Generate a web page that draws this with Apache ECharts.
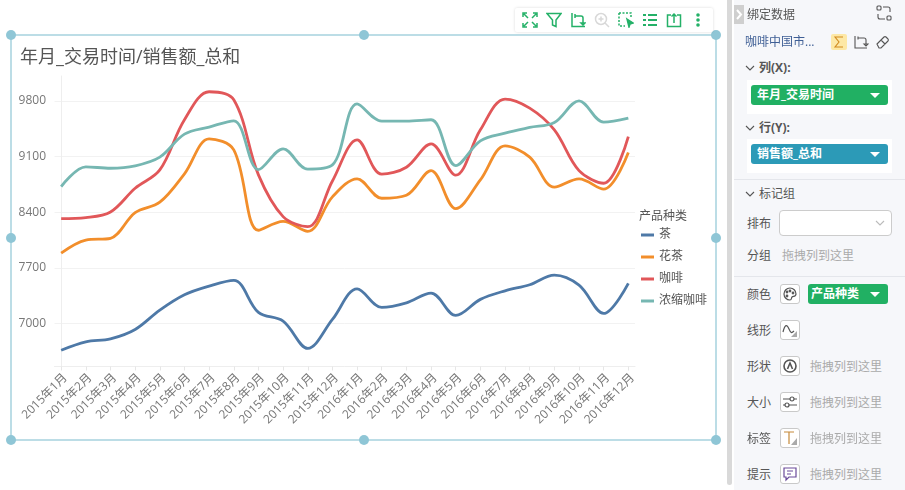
<!DOCTYPE html>
<html><head><meta charset="utf-8">
<script src="https://cdn.jsdelivr.net/npm/echarts@6/dist/echarts.min.js"></script>
<style>
html,body{margin:0;padding:0;width:905px;height:490px;overflow:hidden;background:#fff;font-family:"Open Sans","Noto Sans CJK SC",sans-serif;}
#chart{position:absolute;left:0;top:0;width:725px;height:490px;}
.edge{position:absolute;background:#bcdde6;}
.dot{position:absolute;width:10px;height:10px;border-radius:50%;background:#8fc6d6;}
#toolbar{position:absolute;left:515px;top:8px;width:198px;height:24px;background:#fff;box-shadow:0 0 3px rgba(0,0,0,.15);border-radius:2px;}
#toolbar svg{position:absolute;top:4px;width:16px;height:16px;fill:none;stroke:#24b168;stroke-width:1.5;}
#panel{position:absolute;left:734px;top:0;width:171px;height:490px;background:#f6f7fa;}
#strip{position:absolute;left:727px;top:0;width:5px;height:485px;background:#d9d9d9;border-radius:0 0 3px 3px;}
#btn{position:absolute;left:734px;top:5px;width:10px;height:19px;background:#cfcfcf;}
.t{position:absolute;font-size:12px;line-height:16px;color:#555;white-space:nowrap;}
.hint{color:#aaa;}
.b{font-weight:bold;}
.box{position:absolute;background:#fff;}
.pill{position:absolute;border-radius:3px;color:#fff;font-size:12px;font-weight:bold;line-height:20px;padding-left:6px;box-sizing:border-box;}
.pill i{position:absolute;right:8px;top:8px;width:0;height:0;border-left:5px solid transparent;border-right:5px solid transparent;border-top:5px solid #fff;}
.sep{position:absolute;left:734px;width:171px;height:1px;background:#e4e6eb;}
.ic{position:absolute;left:780px;width:20px;height:20px;box-sizing:border-box;border:1px solid #c9c9c9;border-radius:3px;background:#fff;}
.ic svg{position:absolute;left:1px;top:1px;width:16px;height:16px;fill:none;stroke:#555;stroke-width:1.2;}
.ps{position:absolute;fill:none;stroke:#555;stroke-width:1.1;}
</style></head><body>
<div id="chart"></div>

<div class="edge" style="left:11px;top:34px;width:706px;height:2px"></div>
<div class="edge" style="left:11px;top:439px;width:706px;height:2px"></div>
<div class="edge" style="left:10px;top:35px;width:2px;height:405px"></div>
<div class="edge" style="left:715px;top:35px;width:2px;height:405px"></div>
<div class="dot" style="left:6px;top:30px"></div><div class="dot" style="left:359px;top:30px"></div><div class="dot" style="left:711px;top:30px"></div>
<div class="dot" style="left:6px;top:233px"></div><div class="dot" style="left:711px;top:233px"></div>
<div class="dot" style="left:6px;top:435px"></div><div class="dot" style="left:359px;top:435px"></div><div class="dot" style="left:711px;top:435px"></div>

<div id="toolbar">
<svg style="left:7px" viewBox="0 0 16 16"><path d="M1 5V1h4M11 1h4v4M15 11v4h-4M5 15H1v-4M2 2l4 4M14 2l-4 4M14 14l-4-4M2 14l4-4"/></svg>
<svg style="left:31px" viewBox="0 0 16 16"><path d="M1 1.5h14L10 8v6.5L6.5 13V8z"/></svg>
<svg style="left:55px" viewBox="0 0 16 16"><path d="M2 1v13.500h13M5 4h6a2 2 0 0 1 2 2v5M5 2v4M11 11h4l-2 2z"/></svg>
<svg style="left:79px;stroke:#d8d8d8" viewBox="0 0 16 16"><circle cx="7" cy="7" r="5.500"/><path d="M11 11l4 4M4.500 7h5M7 4.500v5"/></svg>
<svg style="left:103px" viewBox="0 0 16 16"><path d="M1 1h12v5M1 1v13h6" stroke-dasharray="2 1.500"/><path d="M9 7l6 4-3 1-1 3z" fill="#24b168"/></svg>
<svg style="left:127px;stroke-width:2" viewBox="0 0 16 16"><path d="M1 3h3M6 3h9M1 8h3M6 8h9M1 13h3M6 13h9"/></svg>
<svg style="left:151px" viewBox="0 0 16 16"><path d="M5 3H1.500v11.500h13V3H11M8 11V2M5.500 4.500L8 2l2.500 2.500"/></svg>
<svg style="left:175px;fill:#24b168;stroke:none" viewBox="0 0 16 16"><circle cx="8" cy="3" r="1.800"/><circle cx="8" cy="8" r="1.800"/><circle cx="8" cy="13" r="1.800"/></svg>
</div>

<div id="strip"></div>
<div id="panel"></div>
<div id="btn"><svg width="10" height="19" style="position:absolute;left:0;top:0;fill:none;stroke:#fff;stroke-width:2"><path d="M3 5l4 4.500-4 4.500"/></svg></div>

<div class="t" style="left:747px;top:7px">绑定数据</div>
<svg class="ps" style="left:875px;top:4px" width="18" height="18" viewBox="0 0 18 18"><rect x="2" y="2" width="4" height="4" rx="1"/><rect x="12" y="12" width="4" height="4" rx="1"/><path d="M8 3h5a2 2 0 0 1 2 2v3M10 15H5a2 2 0 0 1-2-2v-3"/></svg>

<div class="t" style="left:745px;top:34px;color:#3f5f95">咖啡中国市...</div>
<div class="box" style="left:831px;top:34px;width:16px;height:16px;background:#fde8a6;border-radius:2px"></div>
<svg class="ps" style="left:831px;top:34px;stroke:#d18a1e" width="16" height="16" viewBox="0 0 16 16"><path d="M12 3H4l4 5-4 5h8"/></svg>
<svg class="ps" style="left:853px;top:34px" width="16" height="16" viewBox="0 0 16 16"><path d="M2 2v12h12M5 4h6a2 2 0 0 1 2 2v4M5 2.500v3M11 10h4l-2 2z"/></svg>
<svg class="ps" style="left:875px;top:34px" width="16" height="16" viewBox="0 0 16 16"><path d="M2 10l7-7a1.500 1.500 0 0 1 2 0l2 2a1.500 1.500 0 0 1 0 2l-7 7H4zM6 6l4 4"/></svg>

<svg class="ps" style="left:745px;top:63px" width="10" height="10" viewBox="0 0 10 10"><path d="M1 3l4 4 4-4"/></svg>
<div class="t b" style="left:759px;top:60px">列(X):</div>
<div class="box" style="left:747px;top:80px;width:145px;height:34px"></div>
<div class="pill" style="left:751px;top:85px;width:137px;height:20px;background:#21b063">年月_交易时间<i></i></div>

<svg class="ps" style="left:745px;top:123px" width="10" height="10" viewBox="0 0 10 10"><path d="M1 3l4 4 4-4"/></svg>
<div class="t b" style="left:759px;top:120px">行(Y):</div>
<div class="box" style="left:747px;top:139px;width:145px;height:34px"></div>
<div class="pill" style="left:751px;top:144px;width:137px;height:20px;background:#2c9ab7">销售额_总和<i></i></div>

<div class="sep" style="top:179px"></div>
<svg class="ps" style="left:745px;top:189px" width="10" height="10" viewBox="0 0 10 10"><path d="M1 3l4 4 4-4"/></svg>
<div class="t" style="left:759px;top:186px">标记组</div>
<div class="t" style="left:747px;top:216px">排布</div>
<div class="box" style="left:779px;top:210px;width:113px;height:26px;box-sizing:border-box;border:1px solid #ccc;border-radius:4px"></div>
<svg class="ps" style="left:875px;top:218px;stroke:#bbb" width="10" height="10" viewBox="0 0 10 10"><path d="M1 3l4 4 4-4"/></svg>
<div class="t" style="left:747px;top:248px">分组</div>
<div class="t hint" style="left:782px;top:248px">拖拽列到这里</div>
<div class="sep" style="top:276px"></div>

<div class="t" style="left:747px;top:287px">颜色</div>
<div class="ic" style="top:284px"><svg viewBox="0 0 16 16"><path d="M8 2a6 6 0 1 0 0 12c2 0 1-2 2-3s4 0 4-3a6 6 0 0 0-6-6z"/><circle cx="5" cy="6" r=".8"/><circle cx="8" cy="5" r=".8"/><circle cx="5" cy="10" r=".8"/><circle cx="11" cy="7" r=".8"/></svg></div>
<div class="pill" style="left:808px;top:284px;width:80px;height:20px;background:#21b063;padding-left:3px">产品种类<i></i></div>

<div class="t" style="left:747px;top:323px">线形</div>
<div class="ic" style="top:320px"><svg viewBox="0 0 16 16"><path d="M1 10c2-8 4-8 6-3s3 4 5 2"/><path d="M15 9v6H9z" fill="#aaa" stroke="none"/></svg></div>
<div class="t" style="left:747px;top:359px">形状</div>
<div class="ic" style="top:356px"><svg viewBox="0 0 16 16" style="stroke-width:1.600"><circle cx="8" cy="8" r="6"/><path d="M5.500 11L8 5l2.500 6"/></svg></div>
<div class="t hint" style="left:810px;top:359px">拖拽列到这里</div>
<div class="t" style="left:747px;top:395px">大小</div>
<div class="ic" style="top:392px"><svg viewBox="0 0 16 16"><path d="M1 5h7M12 5h3M1 11h2M7 11h8"/><circle cx="10" cy="5" r="2"/><circle cx="5" cy="11" r="2"/></svg></div>
<div class="t hint" style="left:810px;top:395px">拖拽列到这里</div>
<div class="t" style="left:747px;top:431px">标签</div>
<div class="ic" style="top:428px"><svg viewBox="0 0 16 16"><path d="M2 2h10M7 2v12" stroke="#c58a3a"/><path d="M15 8v7H9z" fill="#aaa" stroke="none"/></svg></div>
<div class="t hint" style="left:810px;top:431px">拖拽列到这里</div>
<div class="t" style="left:747px;top:467px">提示</div>
<div class="ic" style="top:464px"><svg viewBox="0 0 16 16"><path d="M2 2h12v9H7l-3 3v-3H2zM5 5h6M5 8h4" stroke="#6a4a9a"/></svg></div>
<div class="t hint" style="left:810px;top:467px">拖拽列到这里</div>

<script>
const categories = ["2015年1月","2015年2月","2015年3月","2015年4月","2015年5月","2015年6月","2015年7月","2015年8月","2015年9月","2015年10月","2015年11月","2015年12月","2016年1月","2016年2月","2016年3月","2016年4月","2016年5月","2016年6月","2016年7月","2016年8月","2016年9月","2016年10月","2016年11月","2016年12月"];
const tea = [6663,6768,6806,6924,7168,7361,7470,7542,7139,7029,6685,7050,7436,7202,7260,7382,7101,7303,7411,7487,7609,7483,7126,7504];
const flowerTea = [7886,8050,8072,8395,8526,8883,9324,9185,8173,8286,8160,8593,8820,8576,8614,8924,8445,8807,9236,9093,8715,8820,8690,9151];
const coffee = [8319,8332,8403,8702,8933,9564,9917,9816,8870,8345,8218,8794,9311,8879,8967,9261,8866,9437,9825,9711,9437,8924,8765,9353];
const espresso = [8723,8971,8954,8984,9093,9383,9472,9551,8937,9198,8942,8996,9765,9547,9547,9564,8987,9299,9396,9467,9530,9803,9535,9585];
const seriesNames = ["茶","花茶","咖啡","浓缩咖啡"];
const seriesValues = [tea, flowerTea, coffee, espresso];
const colors = ["#4e79a7","#f28e2b","#e15759","#76b7b2"];
const yTicks = [7000,7700,8400,9100,9800];
const chartTitle = "年月_交易时间/销售额_总和";
const legendTitle = "产品种类";

const FF = '"Open Sans","Noto Sans CJK SC",sans-serif';
const xIdx = categories.map((c,i)=>i);
const chart = echarts.init(document.getElementById('chart'));
chart.setOption({
  animation:false,
  color:colors,
  textStyle:{fontFamily:FF},
  title:[
    {text:chartTitle,left:15,top:44,textStyle:{fontSize:18,fontWeight:'normal',color:'#555',fontFamily:FF}},
    {text:legendTitle,left:634,top:206,textStyle:{fontSize:12,fontWeight:'normal',color:'#555',fontFamily:FF}}
  ],
  legend:{
    orient:'vertical',left:636,top:223,itemWidth:13,itemHeight:3,itemGap:8,icon:'rect',
    textStyle:{fontSize:12,color:'#555',fontFamily:FF,lineHeight:14},
    data:seriesNames
  },
  grid:{left:54.5,right:90,top:76,bottom:123.5,containLabel:false},
  xAxis:{
    type:'value',min:-0.27,max:23.27,
    axisLine:{show:true,onZero:false,lineStyle:{color:'#eeeeee'}},
    axisTick:{show:true,customValues:xIdx,length:4,lineStyle:{color:'#e6e6e6'}},
    axisLabel:{customValues:xIdx,rotate:45,fontSize:12,color:'#777',margin:5,verticalAlign:'top',fontFamily:FF,
      formatter:v=>categories[Math.round(v)],hideOverlap:false},
    splitLine:{show:false}
  },
  yAxis:{
    type:'value',min:6458,max:10115,
    axisLine:{show:true,lineStyle:{color:'#eeeeee'}},
    axisTick:{show:false,customValues:yTicks},
    axisLabel:{customValues:yTicks,fontSize:12,color:'#777',margin:8.5,fontFamily:FF,formatter:v=>String(v)},
    splitLine:{show:true,lineStyle:{color:'#f2f2f2',width:1}}
  },
  series:seriesNames.map((n,k)=>({
    name:n,type:'line',smooth:0.35,showSymbol:false,symbol:'none',
    lineStyle:{width:2.8,color:colors[k]},
    data:seriesValues[k].map((v,i)=>[i,v])
  }))
});
</script>
</body></html>
